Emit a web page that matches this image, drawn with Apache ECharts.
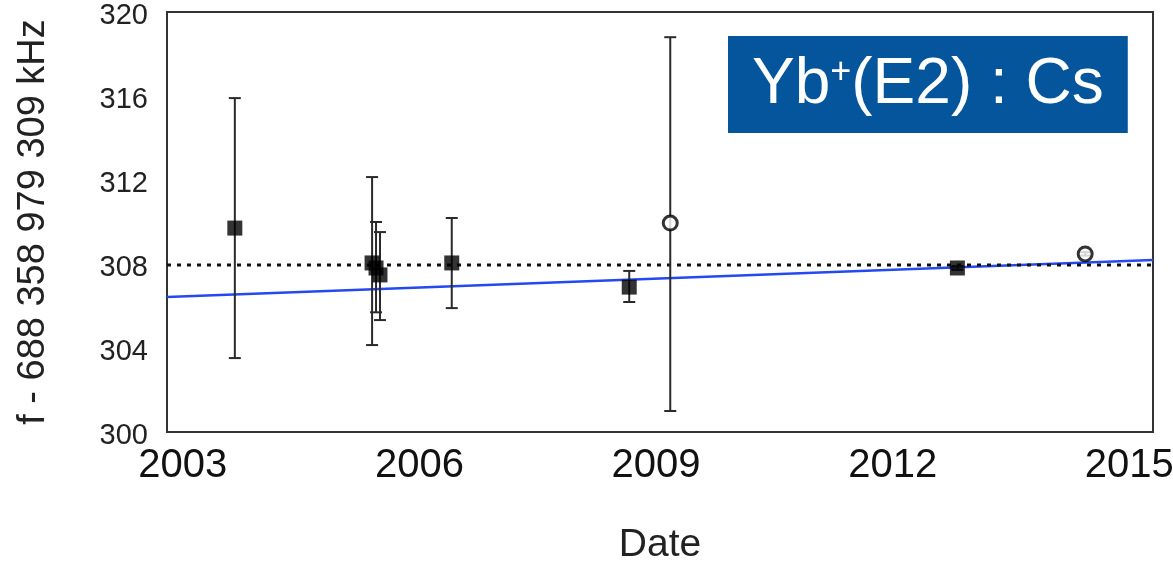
<!DOCTYPE html>
<html>
<head>
<meta charset="utf-8">
<script src="https://cdn.jsdelivr.net/npm/echarts@6/dist/echarts.min.js"></script>
<style>
html,body{margin:0;padding:0;background:#fff;}
#c{width:1173px;height:566px;}
</style>
</head>
<body>
<div id="c"></div>
<script>
// Filled squares: date, value, lower and upper end of error bar
const sqYears = [2003.66, 2005.40, 2005.45, 2005.50, 2006.41, 2008.66, 2012.82];
const sqValues = [309.71, 308.05, 307.81, 307.48, 308.05, 306.90, 307.81];
const sqLow = [303.52, 304.14, 305.70, 305.33, 305.90, 306.19, 307.72];
const sqHigh = [315.90, 312.14, 310.00, 309.52, 310.19, 307.67, 307.90];
// Open circles
const ciYears = [2009.18, 2014.44];
const ciValues = [309.95, 308.48];
const ciLow = [301.00, 308.40];
const ciHigh = [318.80, 308.56];
// Reference lines
const fitLineX = [2002.8, 2015.3];
const fitLineY = [306.43, 308.19];
const dottedY = 307.95;
// Axes
const xTickLabels = [2003, 2006, 2009, 2012, 2015];
const yTicks = [300, 304, 308, 312, 316, 320];
const legendText = ['Yb', '+', '(E2) : Cs'];

const chart = echarts.init(document.getElementById('c'));
const errData = sqYears.map((x,i)=>[x, sqLow[i], sqHigh[i]])
  .concat(ciYears.map((x,i)=>[x, ciLow[i], ciHigh[i]]));
const barColor = '#2a2a2a';
function renderErr(params, api){
  const x = api.value(0), lo = api.value(1), hi = api.value(2);
  const p1 = api.coord([x, lo]), p2 = api.coord([x, hi]);
  const w = 6;
  const st = {stroke: barColor, lineWidth: 2};
  return {type:'group', children:[
    {type:'line', shape:{x1:p1[0], y1:p1[1], x2:p2[0], y2:p2[1]}, style:st},
    {type:'line', shape:{x1:p1[0]-w, y1:p1[1], x2:p1[0]+w, y2:p1[1]}, style:st},
    {type:'line', shape:{x1:p2[0]-w, y1:p2[1], x2:p2[0]+w, y2:p2[1]}, style:st}
  ]};
}
const sans = "'Liberation Sans', Arial, sans-serif";
chart.setOption({
  animation: false,
  title: {
    text: '{a|' + legendText[0] + '}{s|' + legendText[1] + '}{a|' + legendText[2] + '}',
    left: 728, top: 32,
    backgroundColor: '#04559b',
    padding: [17, 24, 16, 24],
    textStyle: {
      fontWeight: 'normal',
      rich: {
        a: {color:'#fff', fontSize:64, lineHeight:72, fontFamily:sans, fontWeight:'normal'},
        s: {color:'#fff', fontSize:36, lineHeight:72, fontFamily:sans, fontWeight:'normal', padding:[0,0,24,0]}
      }
    }
  },
  grid: {left:167, right:20, top:12, bottom:134, show:true, borderColor:'#333', borderWidth:2, outerBoundsMode:'none', containLabel:false},
  xAxis: {
    type:'value', min:2002.8, max:2015.3,
    name:'Date', nameLocation:'middle', nameGap:94,
    nameTextStyle:{fontSize:39, fontFamily:sans, color:'#222'},
    axisLine:{show:true, lineStyle:{color:'#333', width:2}},
    axisTick:{show:false},
    splitLine:{show:false},
    axisLabel:{customValues:xTickLabels, fontSize:40, fontFamily:sans, color:'#111', margin:14,
      formatter: v => String(Math.round(v))}
  },
  yAxis: {
    type:'value', min:300, max:320, interval:4,
    name:'f - 688 358 979 309 kHz', nameLocation:'middle', nameGap:114, nameRotate:90,
    nameTextStyle:{fontSize:38, fontFamily:sans, color:'#222'},
    axisLine:{show:true, lineStyle:{color:'#333', width:2}},
    axisTick:{show:false},
    splitLine:{show:false},
    axisLabel:{customValues:yTicks, margin:19,
      formatter: v => '{v|' + Math.round(v) + '}',
      rich: {v: {fontSize:29, fontFamily:sans, color:'#222', padding:[8,0,0,0]}}}
  },
  series: [
    {type:'line', data: fitLineX.map((x,i)=>[x, fitLineY[i]]), symbol:'none',
     lineStyle:{color:'#2448f2', width:2.5}, z:1},
    {type:'line', data: fitLineX.map(x=>[x, dottedY]), symbol:'none',
     lineStyle:{color:'#111', width:3, type:[4,6]}, z:1},
    {type:'custom', renderItem: renderErr, data: errData, z:2},
    {type:'scatter', data: sqYears.map((x,i)=>[x, sqValues[i]]), symbol:'rect', symbolSize:15,
     itemStyle:{color:'#000'}, z:3},
    {type:'scatter', data: ciYears.map((x,i)=>[x, ciValues[i]]), symbol:'circle', symbolSize:14,
     itemStyle:{color:'#fff', borderColor:'#000', borderWidth:3}, z:3}
  ]
});
</script>
</body>
</html>
